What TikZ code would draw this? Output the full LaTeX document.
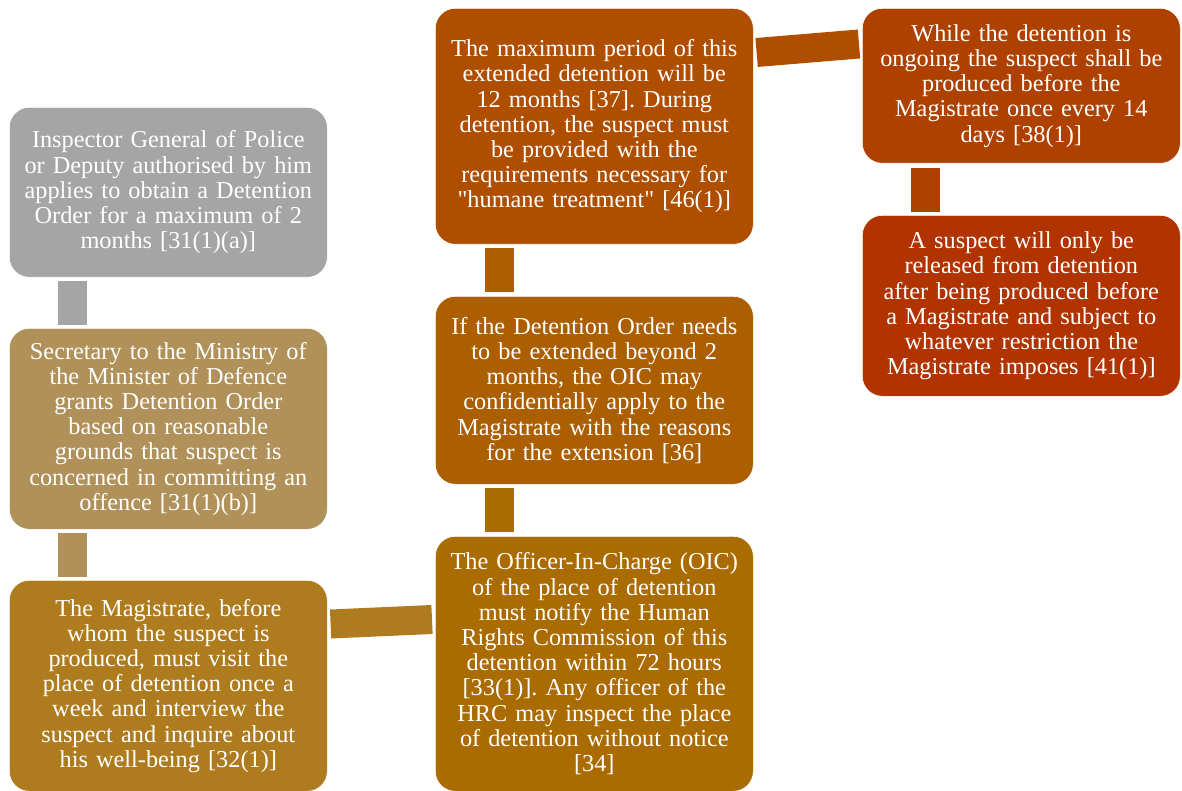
\documentclass[tikz,border=0pt]{standalone}
\usepackage{fontspec}
\setmainfont{Liberation Serif}[Ligatures=TeXOff]
\usetikzlibrary{calc}
\frenchspacing
\definecolor{cgray}{HTML}{A5A5A5}
\definecolor{ctan}{HTML}{B09159}
\definecolor{cochre}{HTML}{AE7C1E}
\definecolor{camber}{HTML}{AA6B00}
\definecolor{corange}{HTML}{AC5F00}
\definecolor{crust}{HTML}{B04E00}
\definecolor{cbrick}{HTML}{AE4100}
\definecolor{cred}{HTML}{B03300}
\tikzset{
  stepbox/.style={rectangle, rounded corners=20pt, draw=white, line width=0.6pt,
    anchor=north west, minimum width=318pt, inner sep=0pt, text width=314pt,
    align=center, text=white, font=\fontsize{24.3}{25.2}\selectfont},
  bar/.style={line width=29pt, line cap=butt}
}
\begin{document}
\begin{tikzpicture}[x=1pt, y=-1pt]
\useasboundingbox (0,0) rectangle (1182,791);

% left column
\node[stepbox, fill=cgray, minimum height=170pt] (n1) at (9,107)
  {Inspector General of Police\\or Deputy authorised by him\\applies to obtain a Detention\\Order for a maximum of 2\\months [31(1)(a)]};
\node[stepbox, fill=ctan, minimum height=201pt] (n2) at (9,328)
  {Secretary to the Ministry of\\the Minister of Defence\\grants Detention Order\\based on reasonable\\grounds that suspect is\\concerned in committing an\\offence [31(1)(b)]};
\node[stepbox, fill=cochre, minimum height=211pt] (n3) at (9,580)
  {The Magistrate, before\\whom the suspect is\\produced, must visit the\\place of detention once a\\week and interview the\\suspect and inquire about\\his well-being [32(1)]};

% middle column
\node[stepbox, fill=camber, minimum height=255pt] (n4) at (435,536)
  {The Officer-In-Charge (OIC)\\of the place of detention\\must notify the Human\\Rights Commission of this\\detention within 72 hours\\{[33(1)]. Any officer of the}\\HRC may inspect the place\\of detention without notice\\{[34]}};
\node[stepbox, fill=corange, minimum height=188pt] (n5) at (435,296)
  {If the Detention Order needs\\to be extended beyond 2\\months, the OIC may\\confidentially apply to the\\Magistrate with the reasons\\for the extension [36]};
\node[stepbox, fill=crust, minimum height=236pt] (n6) at (435,8)
  {The maximum period of this\\extended detention will be\\12 months [37]. During\\detention, the suspect must\\be provided with the\\requirements necessary for\\"humane treatment" [46(1)]};

% right column
\node[stepbox, fill=cbrick, minimum height=155pt] (n7) at (862,8)
  {While the detention is\\ongoing the suspect shall be\\produced before the\\Magistrate once every 14\\days [38(1)]};
\node[stepbox, fill=cred, minimum height=181pt] (n8) at (862,215)
  {A suspect will only be\\released from detention\\after being produced before\\a Magistrate and subject to\\whatever restriction the\\Magistrate imposes [41(1)]};

% connectors
\draw[bar, cgray] ($(n1.south west)+(63.5,3)$) -- ($(n2.north west)+(63.5,-3)$);
\draw[bar, ctan] ($(n2.south west)+(63.5,3)$) -- ($(n3.north west)+(63.5,-3)$);
\draw[bar, cochre] ($(n3.north east)+(3,44)$) -- ($(n4.north west)+(-3,83.5)$);
\draw[bar, camber] ($(n4.north west)+(64.5,-4)$) -- ($(n5.south west)+(64.5,3)$);
\draw[bar, corange] ($(n5.north west)+(64.5,-4)$) -- ($(n6.south west)+(64.5,3)$);
\draw[bar, crust] ($(n6.north east)+(3,44.5)$) -- ($(n7.north west)+(-3,36)$);
\draw[bar, cbrick] ($(n7.south west)+(63.5,4)$) -- ($(n8.north west)+(63.5,-3)$);
\end{tikzpicture}
\end{document}
